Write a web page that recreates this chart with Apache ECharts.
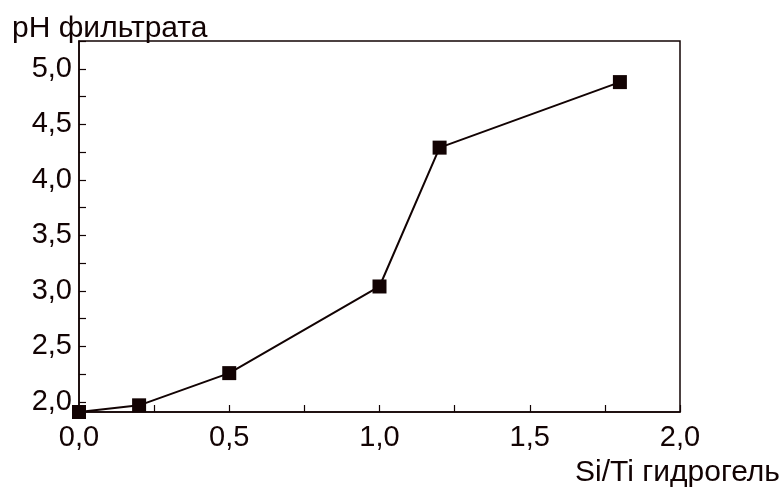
<!DOCTYPE html>
<html>
<head>
<meta charset="utf-8">
<script src="https://cdn.jsdelivr.net/npm/echarts@6/dist/echarts.min.js"></script>
<style>html,body{margin:0;padding:0;background:#fff}#c{width:784px;height:490px}</style>
</head>
<body>
<div id="c"></div>
<script>
const xValues = [0.0, 0.2, 0.5, 1.0, 1.2, 1.8];
const phValues = [1.91, 1.97, 2.26, 3.04, 4.29, 4.88];
const xTickLabels = [0.0, 0.5, 1.0, 1.5, 2.0];
const xTicks = [0, 0.25, 0.5, 0.75, 1.0, 1.25, 1.5, 1.75, 2.0];
const yTickLabels = [2.0, 2.5, 3.0, 3.5, 4.0, 4.5, 5.0];
const yTicks = [2.0, 2.25, 2.5, 2.75, 3.0, 3.25, 3.5, 3.75, 4.0, 4.25, 4.5, 4.75, 5.0, 5.25];
const yTitle = 'pH фильтрата';
const xTitle = 'Si/Ti гидрогель';

const ink = '#120303';
const font = '"Liberation Sans", Arial, sans-serif';
const fmt = v => v.toFixed(1).replace('.', ',');

const chart = echarts.init(document.getElementById('c'));
chart.setOption({
  backgroundColor: '#fff',
  animation: false,
  grid: { left: 79, right: 104, top: 41, bottom: 78, show: true, borderColor: ink, borderWidth: 1.5, backgroundColor: 'transparent' },
  xAxis: {
    type: 'value', min: 0, max: 2,
    axisLine: { lineStyle: { color: ink, width: 1.5 } },
    axisTick: { inside: true, length: 7, lineStyle: { color: ink, width: 1.2 }, customValues: xTicks },
    axisLabel: { color: ink, fontSize: 29, fontFamily: font, margin: 11, formatter: fmt, customValues: xTickLabels },
    splitLine: { show: false }
  },
  yAxis: {
    type: 'value', min: 1.91, max: 5.25,
    axisLine: { show: true, lineStyle: { color: ink, width: 1.5 } },
    axisTick: { show: true, inside: true, length: 7, lineStyle: { color: ink, width: 1.2 }, customValues: yTicks },
    axisLabel: { color: ink, fontSize: 29, fontFamily: font, margin: 7, formatter: fmt, customValues: yTickLabels },
    splitLine: { show: false }
  },
  graphic: [
    { type: 'text', left: 12, top: 14, style: { text: yTitle, fill: ink, fontSize: 30, fontFamily: font } },
    { type: 'text', right: 4, top: 458, style: { text: xTitle, fill: ink, fontSize: 30, fontFamily: font } }
  ],
  series: [{
    type: 'line',
    data: xValues.map((x, i) => [x, phValues[i]]),
    symbol: 'rect', symbolSize: 14,
    clip: false,
    lineStyle: { color: ink, width: 2 },
    itemStyle: { color: ink }
  }]
});
</script>
</body>
</html>
